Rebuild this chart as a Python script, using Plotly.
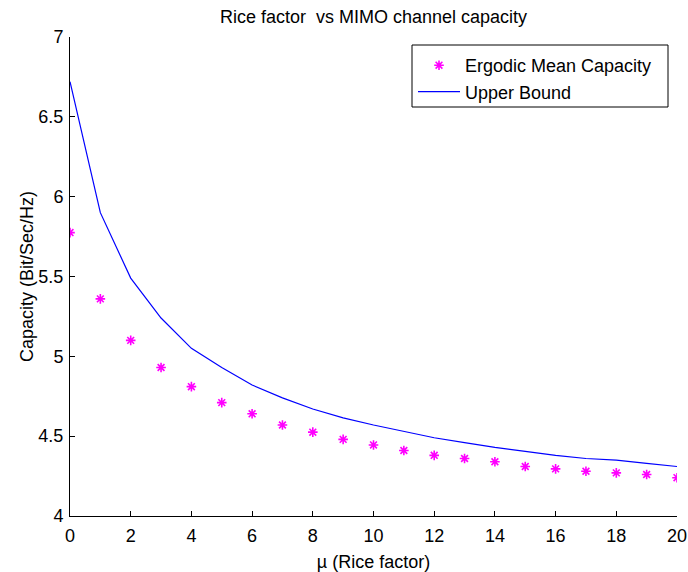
import plotly.graph_objects as go

rice_factor = list(range(0, 21))
ergodic_capacity = [5.775, 5.36, 5.10, 4.93, 4.81, 4.71, 4.64, 4.57, 4.525, 4.48, 4.445,
                    4.41, 4.38, 4.36, 4.34, 4.31, 4.295, 4.28, 4.27, 4.26, 4.24]
upper_bound = [6.72, 5.90, 5.49, 5.24, 5.05, 4.93, 4.82, 4.74, 4.67, 4.615, 4.57,
               4.53, 4.49, 4.46, 4.43, 4.405, 4.38, 4.36, 4.35, 4.33, 4.31]
x_ticks = list(range(0, 21, 2))
y_ticks = [4, 4.5, 5, 5.5, 6, 6.5, 7]

FONT = "Liberation Sans, Arial, sans-serif"

# plot area in pixels (layout only)
L, R, T, B = 70, 677, 37, 516
W, H = 688, 572
PW, PH = R - L, B - T

fig = go.Figure()
fig.add_trace(go.Scatter(
    x=rice_factor, y=ergodic_capacity, mode="markers", name="Ergodic Mean Capacity",
    marker=dict(symbol="asterisk", size=8, color="#FF00FF",
                line=dict(color="#FF00FF", width=1.6)),
))
fig.add_trace(go.Scatter(
    x=rice_factor, y=upper_bound, mode="lines", name="Upper Bound",
    line=dict(color="#0000FF", width=1.2),
))

axis_common = dict(
    showline=True, linecolor="black", linewidth=1, mirror=False, automargin=False,
    ticks="inside", ticklen=5, tickcolor="black", showgrid=False, zeroline=False,
    tickfont=dict(family=FONT, size=18, color="black"),
)

# legend frame
fig.add_shape(type="rect", xref="paper", yref="paper", layer="below",
              x0=(412 - L) / PW, x1=(668 - L) / PW,
              y0=(B - 107) / PH, y1=(B - 45) / PH,
              line=dict(color="black", width=1), fillcolor="white")

fig.update_layout(
    width=W, height=H,
    margin=dict(l=L, r=W - R, t=T, b=H - B, autoexpand=False),
    paper_bgcolor="white", plot_bgcolor="white",
    font=dict(family=FONT, size=18, color="black"),
    title=dict(text="Rice factor  vs MIMO channel capacity", x=0.5, xref="paper",
               y=1 - 17 / H, yanchor="middle", font=dict(family=FONT, size=18)),
    xaxis=dict(range=[0, 20], tickvals=x_ticks, ticklabelstandoff=3,
               title=dict(text="\u00b5 (Rice factor)", standoff=11, font=dict(family=FONT, size=18)),
               **axis_common),
    yaxis=dict(range=[4, 7], tickvals=y_ticks, ticklabelstandoff=2,
               title=dict(text="Capacity (Bit/Sec/Hz)", standoff=0, font=dict(family=FONT, size=18)),
               **axis_common),
    legend=dict(x=(413 - L) / PW, y=(B - 47) / PH, xanchor="left", yanchor="top",
                bgcolor="rgba(0,0,0,0)", borderwidth=0, itemwidth=42,
                font=dict(family=FONT, size=18)),
    showlegend=True,
)

fig.write_html("out.html")
